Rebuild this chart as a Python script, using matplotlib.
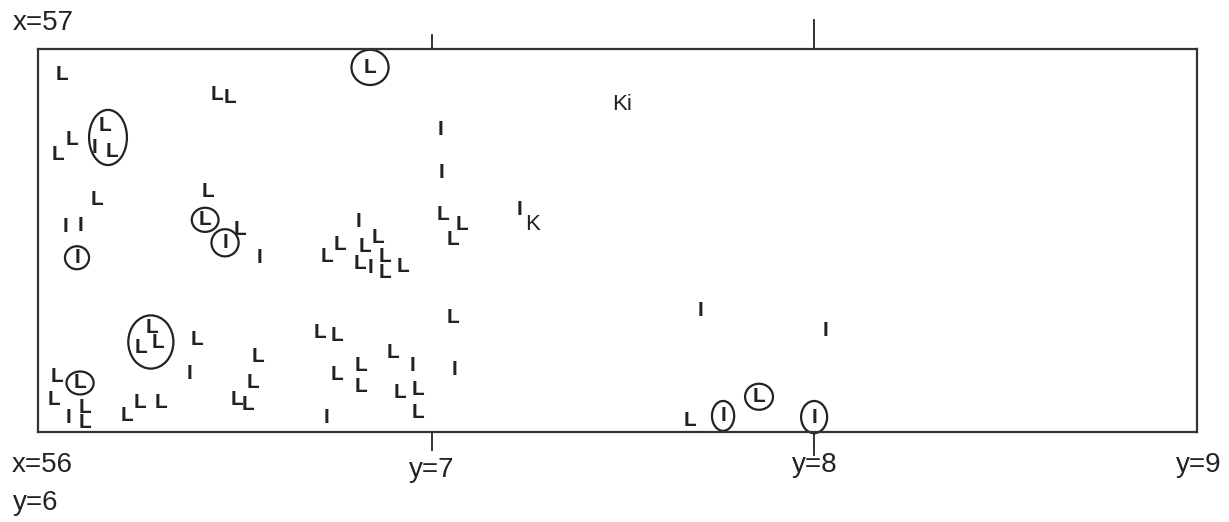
import matplotlib.pyplot as plt
from matplotlib.patches import Ellipse

# letters on the map: (label, longitude "y", latitude "x")
labels = ['L', 'L', 'L', 'L', 'L', 'L', 'I', 'I', 'L', 'L',
          'I', 'I', 'L', 'L', 'L', 'L', 'L', 'I', 'L', 'L',
          'L', 'L', 'L', 'I', 'L', 'L', 'L', 'L', 'L', 'I',
          'L', 'L', 'L', 'L', 'L', 'L', 'L', 'L', 'L', 'L',
          'I', 'L', 'I', 'L', 'L', 'L', 'L', 'I', 'I', 'I',
          'L', 'L', 'L', 'I', 'I', 'I', 'L',
          # letters inside circles
          'L', 'L', 'I', 'L', 'L', 'I', 'I', 'L', 'L', 'L',
          'L', 'I', 'L', 'I']
lon = [6.033, 6.438, 6.472, 6.022, 6.059, 6.124, 6.043, 6.080, 6.414, 6.498,
       6.809, 6.548, 6.726, 6.760, 6.825, 6.859, 6.812, 6.838, 6.877, 6.877,
       6.924, 6.386, 6.545, 6.367, 6.532, 6.490, 6.519, 6.020, 6.012, 6.051,
       6.093, 6.093, 6.203, 6.237, 6.292, 6.707, 6.752, 6.752, 6.814, 6.814,
       6.723, 6.898, 6.950, 6.916, 6.963, 6.963, 7.055, 7.058, 7.021, 7.024,
       7.029, 7.079, 7.055, 7.228, 7.701, 8.030, 7.675,
       6.838, 6.145, 6.119, 6.163, 6.407, 6.459, 6.072, 6.268, 6.240, 6.283,
       6.080, 7.761, 7.855, 7.999]
lat = [56.933, 56.881, 56.873, 56.724, 56.763, 56.607, 56.536, 56.539, 56.627, 56.528,
       56.549, 56.455, 56.458, 56.489, 56.484, 56.507, 56.439, 56.429, 56.458, 56.416,
       56.431, 56.241, 56.196, 56.154, 56.128, 56.084, 56.071, 56.144, 56.084, 56.039,
       56.065, 56.024, 56.044, 56.076, 56.076, 56.259, 56.251, 56.149, 56.173, 56.118,
       56.039, 56.207, 56.173, 56.102, 56.110, 56.052, 56.298, 56.162, 56.790, 56.677,
       56.567, 56.541, 56.502, 56.580, 56.316, 56.264, 56.031,
       56.952, 56.800, 56.742, 56.732, 56.554, 56.494, 56.455, 56.274, 56.220, 56.233,
       56.128, 56.042, 56.092, 56.039]

# the two K labels
k_labels = ['K', 'Ki']
k_lon = [7.264, 7.497]
k_lat = [56.541, 56.855]

# circled groups: centre and extent (degrees)
circ_lon = [6.838, 6.153, 6.407, 6.459, 6.072, 6.265, 6.080, 7.761, 7.855, 7.999]
circ_lat = [56.952, 56.769, 56.554, 56.494, 56.455, 56.235, 56.128, 56.042, 56.092, 56.039]
circ_w = [0.097, 0.099, 0.070, 0.071, 0.063, 0.118, 0.071, 0.058, 0.073, 0.068]
circ_h = [0.092, 0.144, 0.063, 0.071, 0.060, 0.139, 0.060, 0.078, 0.068, 0.084]

ink = '#222222'
plt.rcParams['font.family'] = ['Liberation Sans', 'DejaVu Sans']

fig = plt.figure(figsize=(12.29, 5.22), dpi=100)
ax = fig.add_axes([38 / 1229, 90 / 522, 1159 / 1229, 383 / 522])
ax.set_xlim(5.97, 9.0)
ax.set_ylim(56, 57)
ax.set_xticks([])
ax.set_yticks([])
for s in ax.spines.values():
    s.set_linewidth(1.6)
    s.set_color('#333333')

for t, x, y in zip(labels, lon, lat):
    ax.text(x, y, t, fontsize=15, weight='bold',
            ha='center', va='center', color=ink)
for t, x, y in zip(k_labels, k_lon, k_lat):
    ax.text(x, y, t, fontsize=16, ha='center', va='center', color=ink)

for x, y, w, h in zip(circ_lon, circ_lat, circ_w, circ_h):
    ax.add_patch(Ellipse((x, y), w, h, fill=False, lw=1.6, ec=ink, clip_on=False))

# tick marks at y=7 and y=8
tr = ax.get_xaxis_transform()
ax.plot([7, 7], [1, 1.037], color=ink, lw=1.3, transform=tr, clip_on=False)
ax.plot([8, 8], [1, 1.076], color=ink, lw=1.3, transform=tr, clip_on=False)
ax.plot([7, 7], [0, -0.047], color=ink, lw=1.3, transform=tr, clip_on=False)
ax.plot([8, 8], [0, -0.060], color=ink, lw=1.3, transform=tr, clip_on=False)

kw = dict(fontsize=20, va='center', color=ink)
ax.text(-0.0216, 1.068, 'x=57', transform=ax.transAxes, ha='left', **kw)
ax.text(-0.0224, -0.086, 'x=56', transform=ax.transAxes, ha='left', **kw)
ax.text(-0.0216, -0.185, 'y=6', transform=ax.transAxes, ha='left', **kw)
ax.text(7, -0.099, 'y=7', transform=tr, ha='center', **kw)
ax.text(8, -0.086, 'y=8', transform=tr, ha='center', **kw)
ax.text(1.0216, -0.086, 'y=9', transform=ax.transAxes, ha='right', **kw)

fig.savefig('out.png', dpi=100)
